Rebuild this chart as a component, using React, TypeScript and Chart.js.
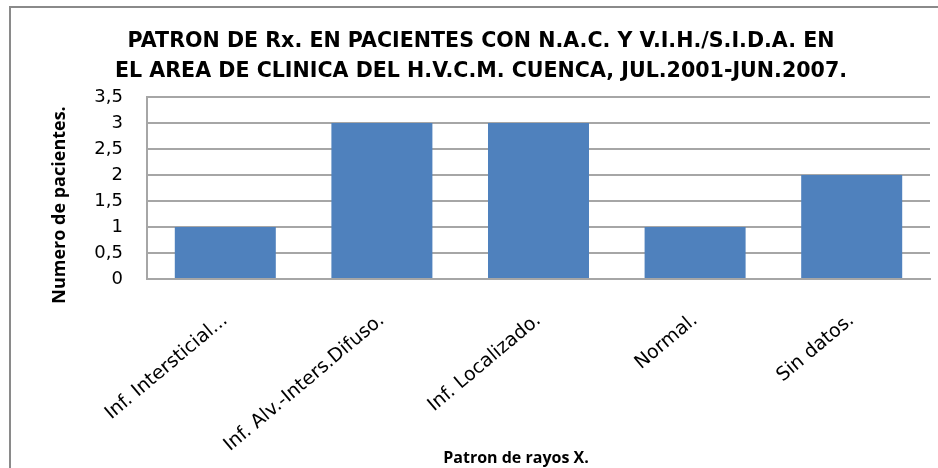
import React, { useEffect, useRef } from "react";
import { Chart, registerables } from "chart.js";

Chart.register(...registerables);

const titleLines = [
  "PATRON DE Rx. EN PACIENTES CON N.A.C. Y V.I.H./S.I.D.A. EN",
  "EL AREA DE CLINICA DEL H.V.C.M. CUENCA, JUL.2001-JUN.2007.",
];
const categories = [
  "Inf. Intersticial...",
  "Inf. Alv.-Inters.Difuso.",
  "Inf. Localizado.",
  "Normal.",
  "Sin datos.",
];
const patients = [1, 3, 3, 1, 2];
const yTitle = "Numero de pacientes.";
const xTitle = "Patron de rayos X.";
const yMax = 3.5;
const yStep = 0.5;

const W = 938;
const H = 468;

export default function App() {
  const ref = useRef<HTMLCanvasElement | null>(null);

  useEffect(() => {
    const canvas = ref.current;
    if (!canvas) return;

    const decor = {
      id: "decor",
      beforeDraw(chart: any) {
        const ctx = chart.ctx;
        ctx.save();
        ctx.fillStyle = "#ffffff";
        ctx.fillRect(0, 0, W, H);
        ctx.strokeStyle = "#8a8a8a";
        ctx.lineWidth = 2;
        ctx.strokeRect(10, 7, 940, 480);
        ctx.restore();
      },
      afterDraw(chart: any) {
        const ctx = chart.ctx;
        ctx.save();
        ctx.fillStyle = "#000000";
        ctx.textAlign = "center";
        ctx.textBaseline = "alphabetic";
        ctx.font = "bold 20.6px 'DejaVu Sans'";
        ctx.fillText(titleLines[0], 481, 47);
        ctx.fillText(titleLines[1], 481, 77);
        ctx.font = "bold 16px 'Open Sans'";
        ctx.fillText(xTitle, 516, 463);
        ctx.translate(60, 205);
        ctx.rotate(-Math.PI / 2);
        ctx.textBaseline = "middle";
        ctx.font = "bold 18px 'Open Sans'";
        ctx.fillText(yTitle, 0, 0);
        ctx.restore();
      },
    };

    const chart = new Chart(canvas, {
      type: "bar",
      data: {
        labels: categories,
        datasets: [
          {
            data: patients,
            backgroundColor: "#4f81bd",
            borderWidth: 0,
            barPercentage: 0.645,
            categoryPercentage: 1,
          },
        ],
      },
      options: {
        responsive: false,
        animation: false,
        devicePixelRatio: 1,
        layout: { padding: { top: 97, left: 0, right: 8, bottom: 0 } },
        plugins: {
          legend: { display: false },
          title: { display: false },
          tooltip: { enabled: false },
        },
        scales: {
          x: {
            grid: { display: false },
            border: { display: true, color: "#a6a6a6", width: 2 },
            ticks: {
              autoSkip: false,
              minRotation: 40,
              maxRotation: 40,
              padding: 22,
              color: "#000000",
              font: { family: "'DejaVu Sans'", size: 19 },
            },
            afterFit(scale: any) {
              scale.height = 189;
            },
          },
          y: {
            min: 0,
            max: yMax,
            grid: { color: "#a6a6a6", lineWidth: 2, drawTicks: false },
            border: { display: true, color: "#a6a6a6", width: 2 },
            ticks: {
              stepSize: yStep,
              padding: 24,
              color: "#000000",
              font: { family: "'DejaVu Sans'", size: 18 },
              callback: (v: any) => String(v).replace(".", ","),
            },
            afterFit(scale: any) {
              scale.width = 147;
            },
          },
        },
      },
      plugins: [decor],
    });

    return () => chart.destroy();
  }, []);

  return (
    <div style={{ position: "absolute", left: 0, top: 0, width: W, height: H, background: "#fff" }}>
      <canvas ref={ref} width={W} height={H} style={{ display: "block", width: W, height: H }} />
    </div>
  );
}
